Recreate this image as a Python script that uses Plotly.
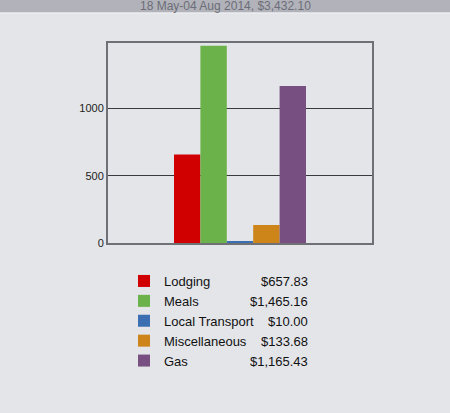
import plotly.graph_objects as go

# expense report data
categories = ['Lodging', 'Meals', 'Local Transport', 'Miscellaneous', 'Gas']
amounts = [657.83, 1465.16, 10.00, 133.68, 1165.43]
amount_labels = ['$657.83', '$1,465.16', '$10.00', '$133.68', '$1,165.43']
colors = ['#d00000', '#6cb24a', '#3c6eb2', '#cd8418', '#774f80']
y_ticks = [0, 500, 1000]
header_text = '18 May-04 Aug 2014, $3,432.10'

BG = '#e3e5e9'
W, H = 450, 413
M_L, M_R, M_T, M_B = 108, 78, 43, 170
plot_w = W - M_L - M_R
plot_h = H - M_T - M_B


def px_x(px):
    return (px - M_L) / plot_w


def px_y(py):
    return (H - M_B - py) / plot_h


fig = go.Figure()

for name, val, col in zip(categories, amounts, colors):
    fig.add_trace(go.Bar(
        x=['total'], y=[val], name=name,
        marker=dict(color=col, line=dict(width=0)),
        hoverinfo='name+y'
    ))

# value column next to the legend
annotations = []
for i, lab in enumerate(amount_labels):
    annotations.append(dict(
        x=px_x(310), y=px_y(281 + 20 * i), xref='paper', yref='paper',
        text=lab, showarrow=False, xanchor='right', yanchor='middle',
        font=dict(family='Liberation Sans, Arial', size=13, color='#111111')
    ))

# header strip
annotations.append(dict(
    x=px_x(225), y=px_y(6), xref='paper', yref='paper',
    text=header_text, showarrow=False, xanchor='center', yanchor='middle',
    font=dict(family='Liberation Sans, Arial', size=12, color='#6c6d78')
))

shapes = [
    dict(type='rect', xref='paper', yref='paper', layer='below',
         x0=px_x(0), x1=px_x(W), y0=px_y(12.5), y1=px_y(0),
         fillcolor='#b2b3ba', line=dict(width=0)),
    dict(type='line', xref='paper', yref='paper',
         x0=px_x(0), x1=px_x(W), y0=px_y(13), y1=px_y(13),
         line=dict(color='#f0f1f3', width=1)),
]

fig.update_layout(
    width=W, height=H,
    margin=dict(l=M_L, r=M_R, t=M_T, b=M_B),
    paper_bgcolor=BG, plot_bgcolor=BG,
    barmode='group', bargap=0.5, bargroupgap=0,
    showlegend=True,
    legend=dict(
        x=px_x(124), y=px_y(266), xanchor='left', yanchor='top',
        bgcolor='rgba(0,0,0,0)', borderwidth=0,
        font=dict(family='Liberation Sans, Arial', size=13, color='#111111'),
        tracegroupgap=0
    ),
    xaxis=dict(showticklabels=False, ticks='', showgrid=False, zeroline=False,
               showline=True, mirror=True, linecolor='#6f7075', linewidth=2,
               range=[-0.5, 0.5]),
    yaxis=dict(range=[0, 1485], tickvals=y_ticks, showgrid=True,
               gridcolor='#3a3a3c', gridwidth=1, zeroline=False,
               showline=True, mirror=True, linecolor='#6f7075', linewidth=2,
               ticks='', ticklabelstandoff=0,
               tickfont=dict(family='Liberation Sans, Arial', size=11, color='#222222')),
    annotations=annotations,
    shapes=shapes,
)

# drop the default page margin so the figure sits at the window's corner
fig.write_html('out.html',
               config={'displayModeBar': False},
               post_script="document.body.style.margin='0';document.body.style.overflow='hidden';")
